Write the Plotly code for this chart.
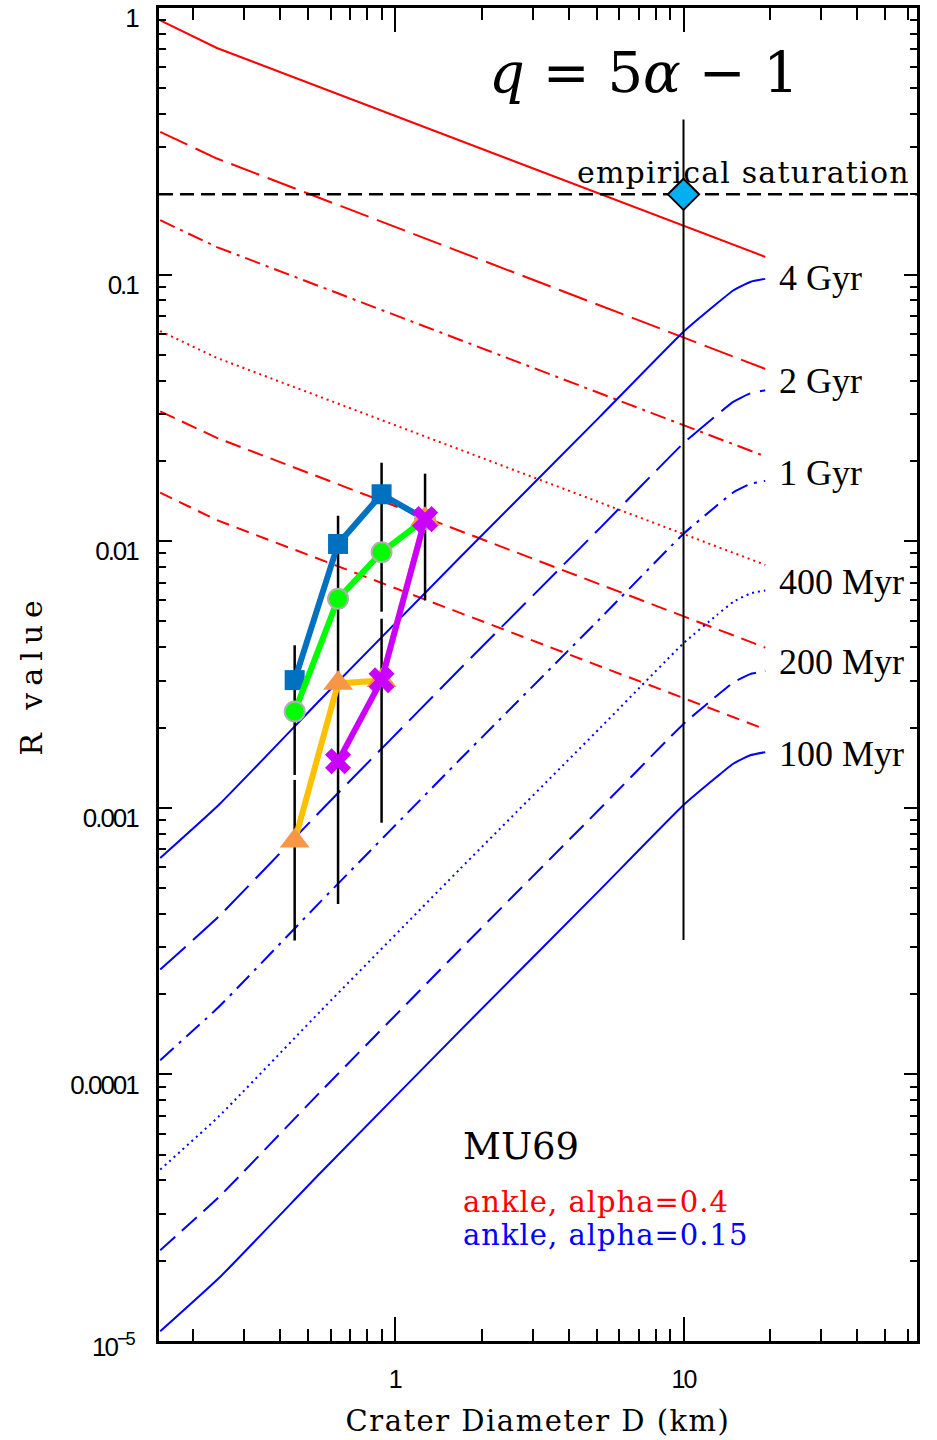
import math
import plotly.graph_objects as go

# ---------------- model curves: ankle, alpha = 0.4 (red) ----------------
red_D = [0.154, 0.242, 19.2]
red_4gyr = [0.898, 0.708, 0.1166]
red_2gyr = [0.343, 0.2725, 0.0443]
red_1gyr = [0.160, 0.1268, 0.0208]
red_400myr = [0.0614, 0.0487, 0.00815]
red_200myr = [0.0307, 0.0244, 0.00399]
red_100myr = [0.0152, 0.0120, 0.00197]

# ---------------- model curves: ankle, alpha = 0.15 (blue) ----------------
blue_D = [0.154, 0.247, 0.551, 1.684, 5.145, 10.0, 13.05, 14.9, 17.02, 19.19]
blue_4gyr = [6.48e-4, 1.031e-3, 2.537e-3, 8.70e-3, 0.02939, 0.06105, 0.07791, 0.08737, 0.09385, 0.09638]
blue_2gyr = [2.474e-4, 3.937e-4, 9.687e-4, 3.323e-3, 0.01122, 0.02331, 0.02976, 0.03337, 0.03584, 0.03681]
blue_1gyr = [1.131e-4, 1.801e-4, 4.430e-4, 1.520e-3, 5.133e-3, 0.01066, 0.01361, 0.01526, 0.01639, 0.01684]
blue_400myr = [4.395e-5, 6.995e-5, 1.720e-4, 5.904e-4, 1.994e-3, 4.141e-3, 5.286e-3, 5.928e-3, 6.366e-3, 6.538e-3]
blue_200myr = [2.190e-5, 3.486e-5, 8.577e-5, 2.942e-4, 9.938e-4, 2.064e-3, 2.634e-3, 2.954e-3, 3.172e-3, 3.258e-3]
blue_100myr = [1.087e-5, 1.730e-5, 4.256e-5, 1.460e-4, 4.932e-4, 1.024e-3, 1.307e-3, 1.466e-3, 1.574e-3, 1.617e-3]

age_labels = ["4 Gyr", "2 Gyr", "1 Gyr", "400 Myr", "200 Myr", "100 Myr"]
age_label_R = [0.0969, 0.03996, 0.01796, 0.007041, 0.003509, 0.001591]
age_label_D = 21.0

# ---------------- MU69 observations ----------------
obs_D = [0.45, 0.636, 0.9, 1.273]
square_R = [3.013e-3, 9.76e-3, 0.0150, 0.0121]
circle_R = [2.296e-3, 6.08e-3, 9.09e-3, 0.0121]
triangle_R = [7.51e-4, 2.93e-3, 3.0e-3, 0.0121]
cross_R = [None, 1.494e-3, 3.01e-3, 0.0121]

bar_D = [0.45, 0.45, 0.636, 0.9, 0.9, 1.273]
bar_hi = [4.07e-3, 1.272e-3, 0.01245, 0.0197, 5.12e-3, 0.01792]
bar_lo = [1.328e-3, 3.178e-4, 4.355e-4, 5.44e-3, 8.79e-4, 5.995e-3]

# empirical saturation
sat_R = 0.2
sat_D = 10.0
sat_hi = 0.382
sat_lo = 3.19e-4

# axes
x_range = [-0.8167, 1.8087]   # log10 of D
y_range = [-5.0, 0.0]          # log10 of R
x_major = [1, 10]
x_major_text = ["1", "10"]
x_minor = [0.2, 0.3, 0.4, 0.5, 0.6, 0.7, 0.8, 0.9,
           2, 3, 4, 5, 6, 7, 8, 9, 20, 30, 40, 50, 60]
y_major = [1e-4, 1e-3, 1e-2, 1e-1, 1]
y_major_text = ["0.0001", "0.001", "0.01", "0.1", "1"]
y_minor = [k * 10.0 ** d for d in range(-5, 0) for k in range(2, 10)]

RED = "#ff0000"
BLUE = "#0000ff"
SERIF = "DejaVu Serif, Liberation Serif, serif"
SANS = "Liberation Sans, Arial, sans-serif"
LABEL_SERIF = "Liberation Serif, DejaVu Serif, serif"


def narrow(t):
    return '<span style="letter-spacing:-2px">' + t + '</span>'


fig = go.Figure()

red_series = [red_4gyr, red_2gyr, red_1gyr, red_400myr, red_200myr, red_100myr]
red_dash = ["solid", "30px,9px", "16px,6px,3px,6px", "2px,4px", "16px,8px", "13px,8px"]
for vals, dash in zip(red_series, red_dash):
    fig.add_trace(go.Scatter(x=red_D, y=vals, mode="lines",
                             line=dict(color=RED, width=2, dash=dash), hoverinfo="skip"))

blue_series = [blue_4gyr, blue_2gyr, blue_1gyr, blue_400myr, blue_200myr, blue_100myr]
blue_dash = ["solid", "34px,10px", "18px,7px,3px,7px", "2px,4px", "20px,9px", "solid"]
for vals, dash in zip(blue_series, blue_dash):
    fig.add_trace(go.Scatter(x=blue_D, y=vals, mode="lines",
                             line=dict(color=BLUE, width=2, dash=dash, shape="spline", smoothing=0.4),
                             hoverinfo="skip"))

# saturation line across the plot
fig.add_trace(go.Scatter(x=[10 ** x_range[0], 10 ** x_range[1]], y=[sat_R, sat_R], mode="lines",
                         line=dict(color="black", width=2.5, dash="14px,7px"), hoverinfo="skip"))

# error bars (vertical segments)
ex, ey = [], []
for d, lo, hi in zip(bar_D, bar_lo, bar_hi):
    ex += [d, d, None]
    ey += [lo, hi, None]
fig.add_trace(go.Scatter(x=ex, y=ey, mode="lines", line=dict(color="black", width=2.5), hoverinfo="skip"))
fig.add_trace(go.Scatter(x=[sat_D, sat_D], y=[sat_lo, sat_hi], mode="lines",
                         line=dict(color="black", width=2), hoverinfo="skip"))
fig.add_trace(go.Scatter(x=[sat_D], y=[sat_R], mode="markers",
                         marker=dict(symbol="diamond", size=24, color="#00b0f0",
                                     line=dict(color="black", width=2)), hoverinfo="skip"))

# observations
fig.add_trace(go.Scatter(x=obs_D, y=square_R, mode="lines+markers",
                         line=dict(color="#0070c0", width=6),
                         marker=dict(symbol="square", size=20, color="#0070c0")))
fig.add_trace(go.Scatter(x=obs_D, y=circle_R, mode="lines+markers",
                         line=dict(color="#00ff00", width=6),
                         marker=dict(symbol="circle", size=20, color="#00ff00",
                                     line=dict(color="#b0b0b0", width=2))))
fig.add_trace(go.Scatter(x=obs_D, y=triangle_R, mode="lines+markers",
                         line=dict(color="#ffc000", width=6),
                         marker=dict(symbol="triangle-up", size=26, color="#f79646")))
fig.add_trace(go.Scatter(x=obs_D, y=cross_R, mode="lines+markers",
                         line=dict(color="#cc00ff", width=6),
                         marker=dict(symbol="x", size=23, color="#cc00ff")))

annotations = []
for txt, r in zip(age_labels, age_label_R):
    annotations.append(dict(x=math.log10(age_label_D), y=math.log10(r), xref="x", yref="y",
                            text=txt, showarrow=False, xanchor="left", yanchor="middle",
                            font=dict(family=LABEL_SERIF, size=36, color="black")))
annotations += [
    dict(x=0.6398, y=0.9514, xref="paper", yref="paper", showarrow=False,
         text="<i>q</i> = 5<i>α</i> − 1", xanchor="center", yanchor="middle",
         font=dict(family=SERIF, size=56, color="black")),
    dict(x=0.9934, y=0.8767, xref="paper", yref="paper", showarrow=False,
         text='<span style="letter-spacing:1.2px">empirical saturation</span>',
         xanchor="right", yanchor="middle",
         font=dict(family=SERIF, size=30, color="black")),
    dict(x=0.3986, y=0.1457, xref="paper", yref="paper", showarrow=False,
         text="MU69", xanchor="left", yanchor="middle",
         font=dict(family=SERIF, size=37, color="black")),
    dict(x=0.3986, y=0.1046, xref="paper", yref="paper", showarrow=False,
         text='<span style="letter-spacing:1px">ankle, alpha=0.4</span>',
         xanchor="left", yanchor="middle",
         font=dict(family=SERIF, size=29, color=RED)),
    dict(x=0.3986, y=0.0792, xref="paper", yref="paper", showarrow=False,
         text='<span style="letter-spacing:1px">ankle, alpha=0.15</span>',
         xanchor="left", yanchor="middle",
         font=dict(family=SERIF, size=29, color=BLUE)),
    dict(x=-0.0277, y=0.0, xref="paper", yref="paper", showarrow=False,
         text=narrow("10<sup>−5</sup>"), xanchor="right", yanchor="middle", yshift=-4,
         font=dict(family=SANS, size=26, color="black")),
]

fig.update_layout(
    width=937, height=1440,
    margin=dict(l=159, r=20, t=3, b=99),
    paper_bgcolor="white", plot_bgcolor="white",
    showlegend=False,
    annotations=annotations,
)

fig.update_xaxes(
    type="log", range=x_range, tickvals=x_major, ticktext=[narrow(t) for t in x_major_text],
    ticks="inside", ticklen=24, tickwidth=2, tickcolor="black",
    showline=True, linewidth=3, linecolor="black", mirror="ticks",
    showgrid=False, zeroline=False, ticklabelstandoff=14,
    tickfont=dict(family=SANS, size=25, color="black"),
    minor=dict(tickvals=x_minor, ticks="inside", ticklen=12, tickwidth=2, tickcolor="black", showgrid=False),
    title=dict(text='<span style="letter-spacing:1.5px">Crater Diameter D (km)</span>',
               font=dict(family=SERIF, size=29, color="black"), standoff=19),
)
fig.update_yaxes(
    type="log", range=y_range, tickvals=y_major, ticktext=[narrow(t) for t in y_major_text],
    ticks="inside", ticklen=13, tickwidth=2, tickcolor="black",
    showline=True, linewidth=3, linecolor="black", mirror="ticks",
    showgrid=False, zeroline=False, ticklabelstandoff=13, ticklabelshift=10,
    tickfont=dict(family=SANS, size=26, color="black"),
    minor=dict(tickvals=y_minor, ticks="inside", ticklen=7, tickwidth=2, tickcolor="black", showgrid=False),
    title=dict(text='<span style="letter-spacing:7px">R value</span>',
               font=dict(family=SERIF, size=30, color="black"), standoff=19),
)

fig.write_html("out.html", config={"displayModeBar": False},
               post_script="document.body.style.margin='0px';")
